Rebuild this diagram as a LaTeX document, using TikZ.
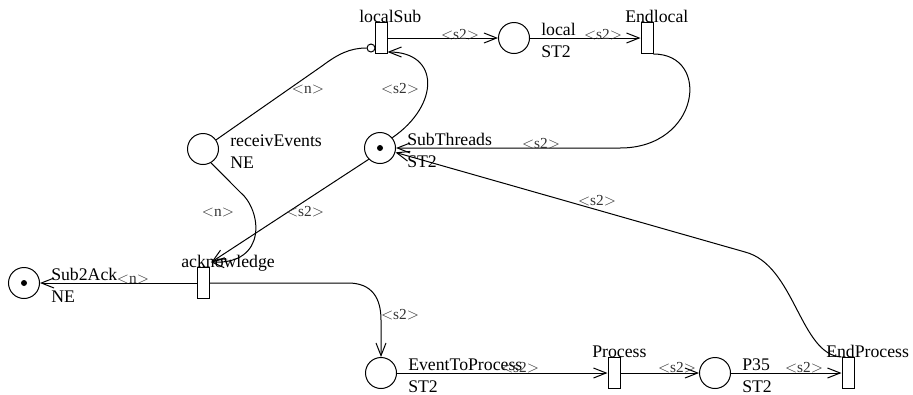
\documentclass[tikz,border=0pt]{standalone}
\usepackage{fontspec}
\setmainfont{Liberation Serif}
\usetikzlibrary{arrows.meta}
\newcommand\arclbl[1]{$<$#1$>$}
\begin{document}
\begin{tikzpicture}[x=0.75pt,y=-0.75pt,
  place/.style={circle,draw,line width=0.75pt,minimum size=23.25pt,inner sep=0pt},
  trans/.style={rectangle,draw,line width=0.75pt,minimum width=9pt,minimum height=23.25pt,inner sep=0pt},
  txt/.style={inner sep=0pt,font=\fontsize{13.3}{16}\selectfont},
  lbl/.style={inner sep=0pt,text=black!80,font=\fontsize{11.5}{13}\selectfont},
  arc/.style={line width=0.75pt,-{Straight Barb[length=9.5pt,width=7.5pt]}},
  plainarc/.style={line width=0.75pt},
  inhib/.style={circle,draw,line width=0.75pt,minimum size=6pt,inner sep=0pt,fill=white},
  tokendot/.style={circle,fill,minimum size=4.5pt,inner sep=0pt}
]
\useasboundingbox (0,0) rectangle (913,394);

% places
\node[place] (receivEvents) at (203,149) {};
\node[place] (SubThreads) at (380,148) {};
\node[tokendot] (SubThreads-tok) at (SubThreads.center) {};
\node[place] (local) at (514,38) {};
\node[place] (Sub2Ack) at (24,283) {};
\node[tokendot] (Sub2Ack-tok) at (Sub2Ack.center) {};
\node[place] (EventToProcess) at (381,373) {};
\node[place] (P35) at (715,373) {};

% transitions
\node[trans] (localSub) at (381,38) {};
\node[trans] (Endlocal) at (647,38) {};
\node[trans] (acknowledge) at (203,283) {};
\node[trans] (Process) at (614,373) {};
\node[trans] (EndProcess) at (848,373) {};

% place texts
\foreach \p/\n/\t in {receivEvents/receivEvents/NE, SubThreads/SubThreads/ST2, local/local/ST2, Sub2Ack/Sub2Ack/NE, EventToProcess/EventToProcess/ST2, P35/P35/ST2}{
  \node[txt,anchor=base west] (\p-name) at ([shift={(27,-3)}]\p.center) {\n};
  \node[txt,anchor=base west] (\p-type) at ([shift={(27,19)}]\p.center) {\t};
}
% transition texts
\foreach \t in {localSub,Endlocal,acknowledge,Process,EndProcess}{
  \node[txt,anchor=base west] (\t-name) at ([shift={(-22,-15.5)}]\t.center) {\t};
}

% inhibitor circle
\node[inhib] (inh) at (371,48) {};

% arcs
\draw[arc] (localSub) -- (local);
\draw[arc] (local) -- (Endlocal);
\draw[arc] (Endlocal.south east) .. controls +(58,0) and +(80,0) .. (620,148) -- (SubThreads);
\draw[arc] (SubThreads.40) .. controls (440,105) and (440,52) .. ([yshift=1.5pt]localSub.south east);
\draw[plainarc] (receivEvents.35) -- (322,66) .. controls (338,54) and (350,48) .. (inh.west);
\draw[arc] (receivEvents.-60) -- (240,192) .. controls (262,210) and (268,265) .. ([shift={(1,-5)}]acknowledge.north east);
\draw[arc] (SubThreads.-135) -- ([shift={(2,-5)}]acknowledge.north east);
\draw[arc] (acknowledge) -- (Sub2Ack);
\draw[arc] (acknowledge.east) -- (348,283) .. controls (372,283) and (381,298) .. (381,320) -- (EventToProcess.north);
\draw[arc] (EventToProcess) -- (Process);
\draw[arc] (Process) -- (P35);
\draw[arc] (P35) -- (EndProcess);
\draw[arc] (EndProcess.north west) .. controls (800,355) and (795,265) .. (745,252) -- (SubThreads);

% arc inscriptions
\node[lbl] (l1) at (460,35) {\arclbl{s2}};
\node[lbl] (l2) at (603,35) {\arclbl{s2}};
\node[lbl] (l3) at (541,144) {\arclbl{s2}};
\node[lbl] (l4) at (400,89) {\arclbl{s2}};
\node[lbl] (l5) at (308,89) {\arclbl{n}};
\node[lbl] (l6) at (218,212) {\arclbl{n}};
\node[lbl] (l7) at (305,212) {\arclbl{s2}};
\node[lbl] (l8) at (133,279) {\arclbl{n}};
\node[lbl] (l9) at (400,315) {\arclbl{s2}};
\node[lbl] (l10) at (520,368) {\arclbl{s2}};
\node[lbl] (l11) at (677,368) {\arclbl{s2}};
\node[lbl] (l12) at (804,368) {\arclbl{s2}};
\node[lbl] (l13) at (597,201) {\arclbl{s2}};
\end{tikzpicture}
\end{document}
